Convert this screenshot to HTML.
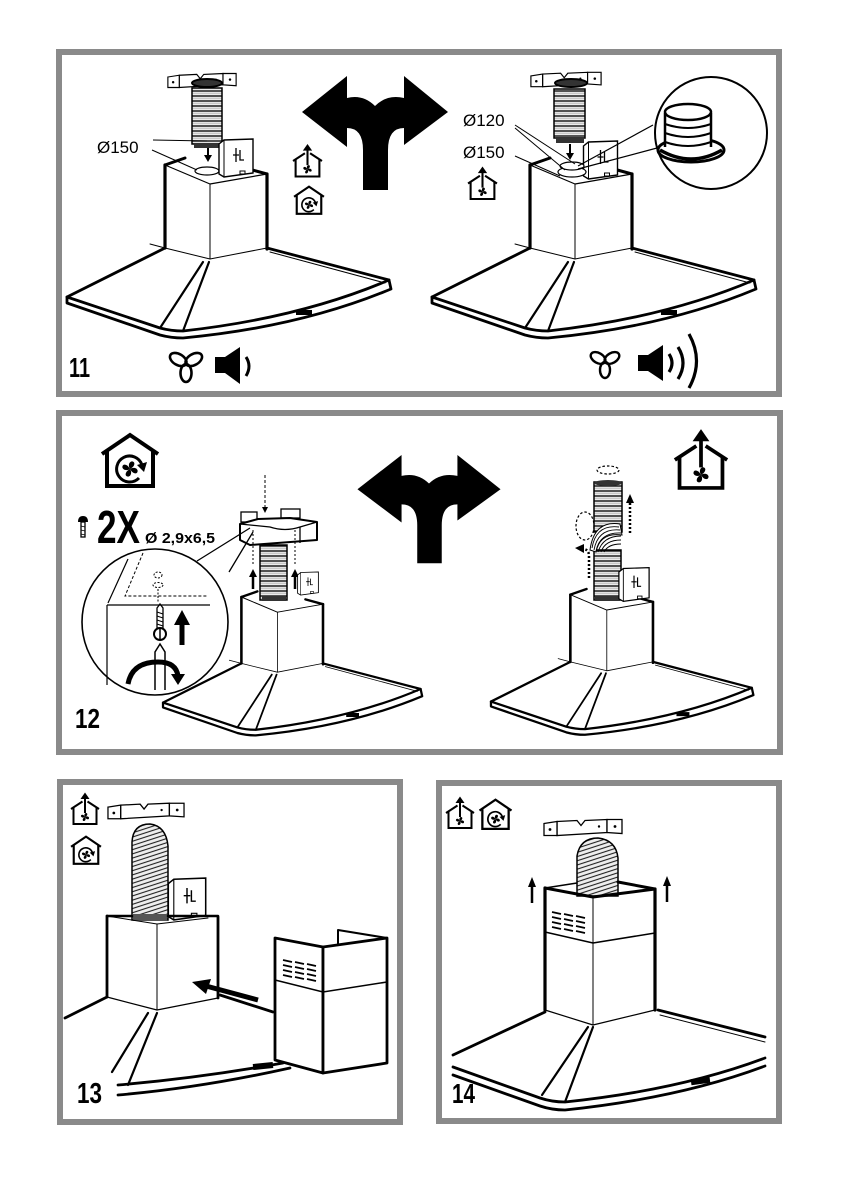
<!DOCTYPE html>
<html><head><meta charset="utf-8"><style>
html,body{margin:0;padding:0;background:#fff;}
svg{display:block;}
</style></head><body>
<svg width="841" height="1191" viewBox="0 0 841 1191" xmlns="http://www.w3.org/2000/svg" xmlns:xlink="http://www.w3.org/1999/xlink" font-family="'Liberation Sans', Arial, sans-serif">
<defs>
 <pattern id="rb" patternUnits="userSpaceOnUse" width="10" height="5">
  <rect width="10" height="5" fill="#ececec"/>
  <path d="M0 1 H10" stroke="#111" stroke-width="1.4"/>
  <path d="M0 3.2 H10" stroke="#aaa" stroke-width="0.7"/>
 </pattern>
 <pattern id="rb2" patternUnits="userSpaceOnUse" width="10" height="4" patternTransform="rotate(-18)">
  <rect width="10" height="4" fill="#eee"/>
  <path d="M0 1 H10" stroke="#222" stroke-width="1.1"/>
 </pattern>
 <g id="fanG" fill="#000">
  <path d="M0 0 C-2 -3 -2 -8 2 -9 C6 -9 6 -5 3 -2 Z"/>
  <path d="M0 0 C-2 -3 -2 -8 2 -9 C6 -9 6 -5 3 -2 Z" transform="rotate(90)"/>
  <path d="M0 0 C-2 -3 -2 -8 2 -9 C6 -9 6 -5 3 -2 Z" transform="rotate(180)"/>
  <path d="M0 0 C-2 -3 -2 -8 2 -9 C6 -9 6 -5 3 -2 Z" transform="rotate(270)"/>
 </g>
 <symbol id="hr" viewBox="0 0 60 56">
  <g fill="none" stroke="#000" stroke-width="4">
   <path d="M2 22 L30 3 L58 22"/>
   <path d="M7 19 V54 H53 V19"/>
   <path d="M39 46 A13 13 0 1 1 42 33" stroke-width="3"/>
  </g>
  <path d="M37 33 L47 30 L44 40 Z" fill="#000"/>
  <use href="#fanG" transform="translate(30,37) scale(0.85)"/>
 </symbol>
 <symbol id="hu" viewBox="0 0 60 66">
  <g fill="none" stroke="#000" stroke-width="4">
   <path d="M2 34 L25 19 M35 19 L58 34"/>
   <path d="M7 31 V64 H53 V31"/>
   <path d="M30 42 V10"/>
  </g>
  <path d="M21 14 L30 1 L39 14 Z" fill="#000"/>
  <use href="#fanG" transform="translate(30,50) scale(0.9)"/>
 </symbol>
 <symbol id="br" viewBox="0 0 80 18">
  <g fill="#fff" stroke="#000" stroke-width="1.3">
   <path d="M14 3 L34 2 L38 7 L42 2 L64 1 L64 14 L14 17 Z"/>
   <path d="M1 5 L14 3 L14 17 L1 17 Z"/>
   <path d="M64 1 L79 1 L79 15 L64 14 Z"/>
  </g>
  <circle cx="7" cy="11" r="1.4" fill="#000"/>
  <circle cx="56" cy="8" r="1.2" fill="#000"/>
  <circle cx="72" cy="8" r="1.4" fill="#000"/>
 </symbol>
 <symbol id="fl" viewBox="0 0 36 40">
  <path d="M1 6 L6 2 L35 1 L35 35 L6 39 L1 36 Z" fill="#fff" stroke="#000" stroke-width="1.4"/>
  <path d="M6 2 V39" stroke="#000" stroke-width="1"/>
  <path d="M18 10 V24 M15 17 H21 M22 12 V22 H26" stroke="#000" stroke-width="1.3" fill="none"/>
  <rect x="22" y="33" width="5" height="3" fill="none" stroke="#000" stroke-width="1"/>
 </symbol>
 <g id="hood" fill="none" stroke="#000" stroke-linecap="round" stroke-linejoin="round">
  <path d="M67 297 L160 328 Q171 331 183 331 Q300 318 389 280 L391 289 Q300 327 183 338 Q171 338 160 335 L67 303 Z" fill="#fff" stroke-width="2.8"/>
  <path d="M165 248 L67 297" stroke-width="2.8"/>
  <path d="M267 248 L389 280" stroke-width="2.8"/>
  <path d="M270 252 L385 283" stroke-width="1"/>
  <path d="M203 262 L160 328 M209 262 L183 331" stroke-width="2.2"/>
  <path d="M165 165 V248 M267 174 V249" stroke-width="3.2"/>
  <path d="M210 184 V259" stroke-width="1"/>
  <path d="M165 165 L210 184 L267 174" stroke-width="1.2"/>
  <path d="M165 165 L185 158 M245 168 L267 174" stroke-width="3"/>
  <path d="M150 244 L165 248 L210 259 L267 248" stroke-width="1"/>
  <rect x="296" y="310" width="16" height="5" fill="#000" stroke="none"/>
 </g>
 <path id="arr" d="M-73 36 L-28 0 L-28 22 Q-12 18 0 30 Q12 18 29 22 L29 0 L73 36 L29 69 L29 52 Q13 52 13 74 L13 114 L-12 114 L-12 74 Q-12 52 -28 52 L-28 71 Z" fill="#000"/>
</defs>

<rect width="841" height="1191" fill="#fff"/>

<!-- Frames -->
<g fill="none" stroke="#8a8a8a" stroke-width="6">
 <rect x="59" y="52" width="720" height="342"/>
 <rect x="59" y="413" width="721" height="339"/>
 <rect x="60" y="782" width="340" height="340"/>
 <rect x="439" y="783" width="340" height="338"/>
</g>

<!-- ================= PANEL 11 ================= -->
<use href="#arr" transform="translate(375,76)"/>
<use href="#hu" x="292" y="143" width="31" height="35"/>
<use href="#hr" x="293" y="185" width="32" height="30"/>

<!-- left hood -->
<use href="#hood"/>
<use href="#br" x="167" y="72" width="70" height="17"/>
<ellipse cx="207" cy="83" rx="15" ry="4" fill="#333" stroke="#000" stroke-width="2"/>
<rect x="192" y="88" width="30" height="56" fill="url(#rb)" stroke="#000" stroke-width="1.5"/>
<rect x="194" y="143" width="26" height="5" fill="#333"/>
<path d="M208 148 V156" stroke="#000" stroke-width="2"/>
<path d="M204 155 L212 155 L208 162 Z" fill="#000"/>
<ellipse cx="207" cy="171" rx="12" ry="4" fill="#fff" stroke="#000" stroke-width="1.2"/>
<use href="#fl" x="218" y="138" width="36" height="40"/>
<text x="97" y="153" font-size="17">Ø150</text>
<path d="M153 140 L207 141 M152 150 L197 170" stroke="#000" stroke-width="1" fill="none"/>

<!-- right hood -->
<use href="#hood" transform="translate(365,0)"/>
<use href="#br" x="530" y="71" width="72" height="17"/>
<ellipse cx="571" cy="83" rx="16" ry="4" fill="#333" stroke="#000" stroke-width="2"/>
<rect x="554" y="89" width="31" height="49" fill="url(#rb)" stroke="#000" stroke-width="1.5"/>
<rect x="556" y="137" width="28" height="6" fill="#333"/>
<path d="M570 144 V154" stroke="#000" stroke-width="2"/>
<path d="M566 153 L574 153 L570 160 Z" fill="#000"/>
<use href="#fl" x="582" y="140" width="37" height="40"/>
<ellipse cx="572" cy="172" rx="14" ry="5" fill="#fff" stroke="#000" stroke-width="1.2"/>
<ellipse cx="572" cy="166" rx="12" ry="4" fill="#fff" stroke="#000" stroke-width="1.2"/>
<text x="463" y="126" font-size="17">Ø120</text>
<text x="463" y="158" font-size="17">Ø150</text>
<path d="M515 125 L575 164 M515 128 L565 170 M515 156 L560 176" stroke="#000" stroke-width="1" fill="none"/>
<use href="#hu" x="467" y="165" width="31" height="36"/>
<!-- magnifier -->
<path d="M653 125 L578 166 M657 148 L578 169" stroke="#000" stroke-width="1.2" fill="none"/>
<circle cx="711" cy="133" r="56" fill="#fff" stroke="#000" stroke-width="2"/>
<g fill="none" stroke="#000">
 <ellipse cx="691" cy="150" rx="33" ry="12" stroke-width="3" fill="#fff"/>
 <rect x="665" y="113" width="46" height="33" fill="#fff" stroke="none"/>
 <path d="M665 113 V147 M711 113 V147" stroke-width="2.5"/>
 <path d="M665 124 Q688 132 711 124 M665 133 Q688 141 711 133 M665 142 Q688 150 711 142" stroke-width="2"/>
 <ellipse cx="688" cy="112" rx="23" ry="8" stroke-width="2.5" fill="#fff"/>
 <path d="M660 150 Q691 168 722 150" stroke-width="3.5"/>
</g>

<!-- bottom icons panel 11 -->
<g fill="none" stroke="#000" stroke-width="2.6">
 <ellipse cx="186" cy="355" rx="5.5" ry="9" transform="rotate(-60 186 364)"/>
 <ellipse cx="186" cy="355" rx="5.5" ry="9" transform="rotate(60 186 364)"/>
 <ellipse cx="186" cy="355" rx="5.5" ry="9" transform="rotate(180 186 364)"/>
</g>
<path d="M215 357 H225 L240 347 V384 L225 373 H215 Z" fill="#000"/>
<path d="M246 357 Q252 366 246 376" stroke="#000" stroke-width="3" fill="none"/>

<g fill="none" stroke="#000" stroke-width="2.4">
 <ellipse cx="605" cy="354" rx="5" ry="8" transform="rotate(-60 605 362)"/>
 <ellipse cx="605" cy="354" rx="5" ry="8" transform="rotate(60 605 362)"/>
 <ellipse cx="605" cy="354" rx="5" ry="8" transform="rotate(180 605 362)"/>
</g>
<path d="M638 355 H648 L663 345 V381 L648 371 H638 Z" fill="#000"/>
<path d="M669 354 Q675 363 669 372 M678 347 Q688 363 678 379 M689 334 Q704 361 689 388" stroke="#000" stroke-width="3.2" fill="none"/>

<text x="69" y="377" font-size="28" font-weight="bold" textLength="21" lengthAdjust="spacingAndGlyphs">11</text>

<!-- ================= PANEL 12 ================= -->
<use href="#arr" transform="translate(429,455) scale(0.98,0.95)"/>
<use href="#hr" x="100" y="432" width="60" height="56"/>
<use href="#hu" x="673" y="428" width="56" height="62"/>

<!-- left hood -->
<use href="#hood" transform="translate(109.4,465) scale(0.8)"/>
<path d="M265 475 V508" stroke="#000" stroke-width="1" stroke-dasharray="3,2"/>
<path d="M262 507 L268 507 L265 513 Z" fill="#000"/>
<rect x="260" y="545" width="27" height="55" fill="url(#rb)" stroke="#000" stroke-width="1.5"/>
<rect x="262" y="596" width="24" height="5" fill="#333"/>
<g fill="#fff" stroke="#000" stroke-width="1.3">
 <rect x="241" y="512" width="16" height="10"/>
 <rect x="281" y="509" width="19" height="9"/>
</g>
<path d="M240 524 L258 519 L290 518 L317 522 L317 540 L250 545 L240 540 Z" fill="#fff" stroke="#000" stroke-width="2" stroke-linejoin="round"/>
<path d="M240 524 L270 527 Q285 532 300 527 L317 522 M300 527 V543" stroke="#000" stroke-width="1.3" fill="none"/>
<g stroke="#000" fill="none" stroke-width="1" stroke-dasharray="2,2">
 <path d="M253 530 V565 M295 530 V565"/>
</g>
<path d="M253 589 V576 M295 589 V576" stroke="#000" stroke-width="2.5"/>
<path d="M249 577 L253 569 L257 577 Z M291 577 L295 569 L299 577 Z" fill="#000"/>
<use href="#fl" x="297" y="566" width="22" height="35"/>

<!-- magnifier -->
<path d="M197 561 L250 528 M229 572 L253 532" stroke="#000" stroke-width="1.3" fill="none"/>
<circle cx="155" cy="622" r="73" fill="#fff" stroke="#000" stroke-width="1.6"/>
<g fill="none" stroke="#000">
 <path d="M107 605 H210" stroke-width="1.2"/>
 <path d="M107 605 V685" stroke-width="1.2"/>
 <path d="M128 559 L108 603" stroke-width="1.2"/>
 <path d="M143 553 L125 596 H207" stroke-width="1" stroke-dasharray="3,2"/>
 <ellipse cx="158" cy="575" rx="4" ry="3" stroke-width="1" stroke-dasharray="2,1.5"/>
 <ellipse cx="158" cy="585" rx="5" ry="2.5" stroke-width="1" stroke-dasharray="2,1.5"/>
 <path d="M158 589 V603" stroke-width="1" stroke-dasharray="2,1.5"/>
 <path d="M157 608 L160 604 L163 608 V628 H157 Z" stroke-width="1.3"/>
 <path d="M157 612 L163 614 M157 616 L163 618 M157 620 L163 622 M157 624 L163 626" stroke-width="1"/>
 <circle cx="160" cy="634" r="6" stroke-width="2"/>
 <path d="M155 690 V652 L160 644 L165 652 V690" stroke-width="1.5"/>
 <path d="M128 684 Q132 662 158 662 Q176 662 178 676" stroke-width="5"/>
</g>
<path d="M160 628 V640" stroke="#000" stroke-width="1.5"/>
<path d="M171 674 L185 674 L178 685 Z" fill="#000"/>
<rect x="179.5" y="623" width="5" height="22" fill="#000"/>
<path d="M174 625 L182 610 L190 625 Z" fill="#000"/>

<!-- right hood -->
<use href="#hood" transform="translate(436.7,461) scale(0.81)"/>
<ellipse cx="608" cy="470" rx="11" ry="4" fill="none" stroke="#000" stroke-width="1.2" stroke-dasharray="2.5,2"/>
<rect x="594" y="550" width="27" height="50" fill="url(#rb)" stroke="#000" stroke-width="1.5"/>
<rect x="595" y="596" width="25" height="5" fill="#333"/>
<rect x="594" y="482" width="28" height="50" fill="url(#rb)" stroke="#000" stroke-width="1.5"/>
<ellipse cx="608" cy="483" rx="14" ry="3" fill="#333"/>
<g fill="#fff" stroke="#000" stroke-width="1">
 <path d="M590 550 Q594 520 620 524 L622 535 Q600 532 596 552 Z"/>
</g>
<g fill="none" stroke="#000" stroke-width="0.9">
 <path d="M592 548 Q596 524 619 527"/>
 <path d="M594 550 Q598 528 620 530"/>
 <path d="M596 551 Q600 532 621 533"/>
 <path d="M598 552 Q603 536 621 536"/>
 <path d="M601 552 Q605 540 621 540"/>
 <path d="M604 552 Q608 544 621 544"/>
</g>
<ellipse cx="585" cy="526" rx="9" ry="14" fill="none" stroke="#000" stroke-width="1.2" stroke-dasharray="2.5,2"/>
<path d="M630 533 V502" stroke="#000" stroke-width="2.5" stroke-dasharray="2,2"/>
<path d="M626 503 L630 494 L634 503 Z" fill="#000"/>
<path d="M589 578 V556 Q589 550 584 549" stroke="#000" stroke-width="2.5" stroke-dasharray="2,2" fill="none"/>
<path d="M584 544 L575 548 L584 553 Z" fill="#000"/>
<use href="#fl" x="618" y="566" width="32" height="37"/>

<!-- text panel 12 -->
<path d="M78 522 Q78 516 83 516 Q88 516 88 522 Z" fill="#000"/>
<rect x="81" y="522" width="4" height="15" fill="#fff" stroke="#000" stroke-width="1.3"/>
<path d="M81 526 L85 527 M81 530 L85 531 M81 534 L85 535" stroke="#000" stroke-width="0.8"/>
<text x="97" y="543" font-size="46" font-weight="bold" textLength="43" lengthAdjust="spacingAndGlyphs">2X</text>
<text x="145" y="543" font-size="15" font-weight="bold" textLength="70" lengthAdjust="spacingAndGlyphs">Ø 2,9x6,5</text>
<text x="75" y="728" font-size="28" font-weight="bold" textLength="25" lengthAdjust="spacingAndGlyphs">12</text>

<!-- ================= PANEL 13 ================= -->
<use href="#hu" x="70" y="792" width="30" height="33"/>
<use href="#hr" x="70" y="834" width="32" height="32"/>
<use href="#br" x="107" y="802" width="78" height="18"/>
<path d="M132 920 V842 Q133 824 150 824 Q166 826 168 846 V920 Z" fill="url(#rb2)" stroke="#000" stroke-width="1.5"/>
<rect x="133" y="914" width="34" height="7" fill="#555"/>
<use href="#fl" x="165" y="877" width="44" height="44"/>
<g fill="none" stroke="#000" stroke-linecap="round" stroke-linejoin="round">
 <path d="M107 916 H132 M168 916 H218" stroke-width="2.5"/>
 <path d="M107 916 V997 M218 917 V998" stroke-width="2.8"/>
 <path d="M157 924 V1010" stroke-width="1"/>
 <path d="M107 916 L157 924 L208 918" stroke-width="1"/>
 <path d="M107 997 L157 1010 L218 998" stroke-width="1.2"/>
 <path d="M107 997 L65 1018" stroke-width="2.8"/>
 <path d="M148 1013 L112 1072 M157 1013 L128 1085" stroke-width="2.2"/>
 <path d="M220 995 L273 1012" stroke-width="2.8"/>
 <path d="M118 1085 Q200 1078 283 1063" stroke-width="2.8"/>
 <path d="M118 1095 Q200 1088 290 1068" stroke-width="2.8"/>
</g>
<rect x="253" y="1063" width="20" height="6" fill="#000" transform="rotate(-6 263 1066)"/>
<!-- cover box -->
<g fill="#fff" stroke="#000" stroke-width="2.8" stroke-linejoin="round">
 <path d="M338 930 L387 938 V945 L338 945 Z" stroke-width="2"/>
 <path d="M275 938 L323 947 L323 1073 L275 1060 Z"/>
 <path d="M323 947 L387 938 L387 1063 L323 1073 Z"/>
</g>
<path d="M338 930 V944" stroke="#000" stroke-width="2"/>
<path d="M275 980 L323 992 L387 982" stroke="#000" stroke-width="1.5" fill="none"/>
<g stroke="#000" stroke-width="1.8">
 <path d="M283 960 L292 962 M283 965 L292 967 M283 970 L292 972 M283 975 L292 977"/>
 <path d="M295 962 L304 964 M295 967 L304 969 M295 972 L304 974 M295 977 L304 979"/>
 <path d="M307 964 L316 966 M307 969 L316 971 M307 974 L316 976 M307 979 L316 981"/>
</g>
<path d="M258 1000 L206 986" stroke="#000" stroke-width="5"/>
<path d="M192 982 L211 979 L206 994 Z" fill="#000"/>
<text x="77" y="1103" font-size="29" font-weight="bold" textLength="25" lengthAdjust="spacingAndGlyphs">13</text>

<!-- ================= PANEL 14 ================= -->
<use href="#hu" x="445" y="795" width="30" height="35"/>
<use href="#hr" x="478" y="798" width="35" height="32"/>
<use href="#br" x="543" y="818" width="80" height="19"/>
<path d="M577 896 V856 Q580 838 598 838 Q616 840 618 858 V896 Z" fill="url(#rb2)" stroke="#000" stroke-width="1.5"/>
<g fill="none" stroke="#000" stroke-linecap="round" stroke-linejoin="round">
 <path d="M545 888 V1010 M655 889 V1010" stroke-width="3.2"/>
 <path d="M593 897 V1025" stroke-width="1"/>
 <path d="M545 888 L593 897 L655 889" stroke-width="3"/>
 <path d="M618 882 L655 889" stroke-width="3"/>
 <path d="M545 888 L577 883" stroke-width="1.5"/>
 <path d="M545 932 L593 943 L655 933" stroke-width="1.5"/>
 <path d="M545 1010 L593 1025 L655 1010" stroke-width="1.2"/>
 <path d="M545 1012 L453 1055" stroke-width="2.8"/>
 <path d="M658 1010 L765 1037" stroke-width="2.8"/>
 <path d="M660 1015 L765 1042" stroke-width="1"/>
 <path d="M588 1027 L542 1095 M593 1027 L565 1102" stroke-width="2.2"/>
 <path d="M453 1067 L540 1098 Q552 1102 565 1102 Q680 1090 765 1058" stroke-width="2.8"/>
 <path d="M453 1075 L540 1106 Q552 1110 565 1110 Q680 1098 765 1066" stroke-width="2.8"/>
</g>
<g stroke="#000" stroke-width="1.8">
 <path d="M552 912 L561 914 M552 917 L561 919 M552 922 L561 924 M552 927 L561 929"/>
 <path d="M564 914 L573 916 M564 919 L573 921 M564 924 L573 926 M564 929 L573 931"/>
 <path d="M576 916 L585 918 M576 921 L585 923 M576 926 L585 928 M576 931 L585 933"/>
</g>
<rect x="691" y="1078" width="19" height="6" fill="#000" transform="rotate(-8 700 1081)"/>
<path d="M532 903 V886 M667 902 V885" stroke="#000" stroke-width="2.5"/>
<path d="M528 887 L532 877 L536 887 Z M663 886 L667 876 L671 886 Z" fill="#000"/>
<text x="452" y="1103" font-size="28" font-weight="bold" textLength="23" lengthAdjust="spacingAndGlyphs">14</text>
</svg>
</body></html>
